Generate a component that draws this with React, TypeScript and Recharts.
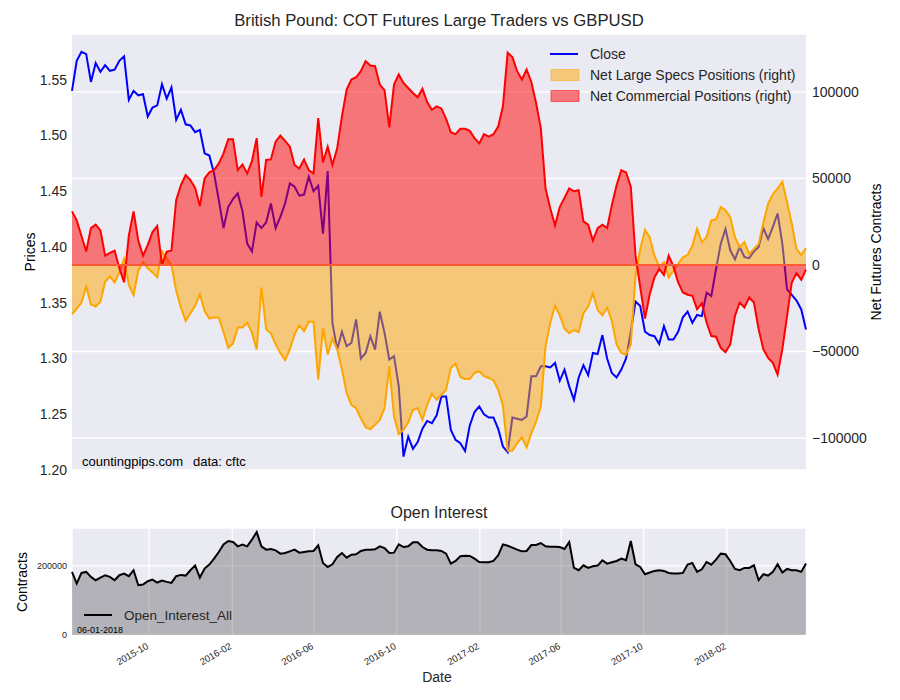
import React from 'react';
import { ComposedChart, Line, Area, XAxis, YAxis, CartesianGrid, ReferenceLine } from 'recharts';

// weekly COT report dates (Tuesdays) from 2015-06-09 to 2018-05-29
const FIRST_WEEK = Date.UTC(2015, 5, 9);
const WEEK_MS = 7 * 24 * 3600 * 1000;

export const closePrices = [
  1.540, 1.567, 1.575, 1.573, 1.548, 1.565, 1.557, 1.563, 1.558, 1.559,
  1.567, 1.571, 1.532, 1.540, 1.536, 1.537, 1.517, 1.525, 1.527, 1.546,
  1.533, 1.543, 1.514, 1.523, 1.510, 1.509, 1.503, 1.505, 1.484, 1.482,
  1.466, 1.442, 1.417, 1.436, 1.443, 1.448, 1.432, 1.403, 1.396, 1.422,
  1.417, 1.422, 1.439, 1.417, 1.427, 1.439, 1.457, 1.454, 1.446, 1.447,
  1.463, 1.450, 1.455, 1.412, 1.468, 1.332, 1.308, 1.324, 1.311, 1.314,
  1.335, 1.300, 1.305, 1.320, 1.308, 1.342, 1.323, 1.299, 1.302, 1.275,
  1.212, 1.230, 1.219, 1.225, 1.237, 1.244, 1.242, 1.249, 1.266, 1.266,
  1.236, 1.227, 1.224, 1.217, 1.240, 1.252, 1.257, 1.250, 1.247, 1.247,
  1.237, 1.221, 1.216, 1.247, 1.246, 1.245, 1.248, 1.284, 1.284, 1.293,
  1.293, 1.292, 1.296, 1.280, 1.290, 1.275, 1.263, 1.283, 1.294, 1.285,
  1.305, 1.304, 1.321, 1.300, 1.287, 1.283, 1.290, 1.300, 1.324, 1.351,
  1.347, 1.324, 1.321, 1.320, 1.313, 1.329, 1.317, 1.317, 1.324, 1.337,
  1.342, 1.332, 1.339, 1.338, 1.359, 1.356, 1.380, 1.403, 1.416, 1.397,
  1.389, 1.400, 1.391, 1.390, 1.396, 1.400, 1.417, 1.407, 1.418, 1.430,
  1.403, 1.362, 1.357, 1.352, 1.344, 1.326,
];

export const netSpecs = [
  -28500, -25200, -21700, -12400, -22900, -24000, -21300, -9700, -6600, -10100,
  -4300, 3500, -11600, -17400, -3300, 1550, -1900, -4300, -7200, 7750,
  3900, 0, -14900, -24600, -32400, -27900, -23600, -16900, -26600, -31000,
  -30400, -30400, -38800, -47900, -45300, -36200, -36200, -33300, -39100, -48800,
  -13000, -37200, -39500, -45900, -50800, -55000, -48800, -40100, -34900, -38200,
  -32800, -32800, -66300, -36600, -51700, -42600, -48800, -60500, -74000, -80800,
  -82800, -88600, -93800, -95000, -92400, -89500, -82800, -58600, -87600, -97700,
  -95300, -91100, -83700, -82800, -89500, -80800, -74400, -77900, -75000, -72100,
  -59500, -57000, -64700, -65900, -65900, -62400, -61400, -64300, -65300, -66700,
  -72100, -81400, -107400, -107400, -103100, -99600, -105400, -97300, -90500, -81800,
  -46900, -33300, -23600, -29100, -36800, -39500, -37600, -38800, -27900, -24000,
  -16300, -26000, -29100, -24600, -32400, -45900, -50800, -51700, -45900, -6200,
  9300, 20300, 16100, 5400, -800, 1550, -7200, -3300, 600, 4500,
  5800, 11200, 20900, 13200, 16100, 25800, 26400, 33500, 31600, 27700,
  16100, 10300, 13200, 6400, 9300, 12200, 24400, 35500, 40900, 44200,
  48100, 36400, 23800, 9300, 5800, 9700,
];

export const netCommercial = [
  31000, 25800, 16700, 7750, 21300, 23300, 20000, 5400, 7000, 8300,
  -1900, -10000, 17000, 31000, 14100, 5400, 11600, 19000, 22500, 0,
  7750, 8300, 37400, 46100, 52000, 49000, 44600, 34100, 50000, 53500,
  54800, 58700, 64500, 72700, 72700, 54800, 58100, 52900, 60000, 73300,
  39300, 60700, 61000, 71300, 74800, 71700, 68400, 57800, 55800, 61000,
  54800, 52900, 84900, 59300, 68400, 57800, 67400, 85900, 101400, 107200,
  108500, 112000, 117800, 115300, 114900, 104300, 101000, 79500, 104300, 110100,
  105200, 102300, 99400, 96900, 101900, 94200, 89700, 91700, 90500, 84500,
  76700, 75600, 78700, 78700, 77500, 73300, 70300, 75600, 74200, 75600,
  80000, 91700, 122700, 120200, 112000, 107200, 113000, 105800, 93600, 79100,
  44200, 32600, 22900, 33500, 38800, 44200, 42600, 43200, 25200, 23300,
  14100, 21300, 23300, 21300, 34500, 46100, 54800, 53500, 45200, 5400,
  -13000, -31000, -16900, -7200, -2300, -5800, 5400, -800, -10100, -15900,
  -17200, -17800, -25600, -22100, -33300, -41100, -41500, -47900, -50400, -45900,
  -29500, -21700, -24600, -18800, -21700, -37200, -48800, -53700, -56600, -63400,
  -48800, -29500, -10100, -4700, -8500, -2700,
];

export const openInterest = [
  182800, 149100, 179900, 182800, 168400, 158700, 166400, 173200, 168400, 158700,
  173200, 178000, 170300, 187600, 144300, 146200, 155800, 160700, 152000, 157800,
  153900, 151000, 170300, 174100, 172200, 187600, 201100, 166400, 192400, 203900,
  221300, 240500, 262600, 272200, 269400, 256900, 261700, 256900, 276100, 298200,
  256900, 247200, 249200, 245300, 235700, 237600, 242400, 247200, 238600, 240500,
  242400, 243400, 259700, 208800, 197200, 204900, 226100, 237600, 224100, 232800,
  233800, 243400, 247200, 247200, 248200, 256900, 252000, 237600, 238600, 262600,
  254900, 256900, 268400, 268400, 254900, 247200, 245300, 245300, 243400, 235700,
  206800, 214500, 228000, 229900, 229000, 221300, 211600, 210700, 210700, 214500,
  230900, 262600, 258800, 253000, 247200, 242400, 243400, 260700, 260700, 266500,
  256900, 255900, 255900, 254900, 249200, 269400, 194300, 187600, 202000, 194300,
  199100, 201100, 216500, 206800, 210700, 214500, 221300, 216500, 272200, 204900,
  197200, 176000, 180900, 185700, 187600, 185700, 179900, 178000, 178000, 179900,
  203900, 208800, 182800, 190500, 211600, 203900, 218400, 235700, 233800, 214500,
  191400, 187600, 194300, 194300, 202000, 158700, 176000, 172200, 182800, 204900,
  180900, 191400, 187600, 187600, 182800, 206800,
];

const monthTicks = ['2015-10-01', '2016-02-01', '2016-06-01', '2016-10-01', '2017-02-01', '2017-06-01', '2017-10-01', '2018-02-01'].map(d => Date.parse(d));
const priceTicks = [1.2, 1.25, 1.3, 1.35, 1.4, 1.45, 1.5, 1.55];
const netTicks = [-100000, -50000, 0, 50000, 100000];
const oiTicks = [0, 200000];

const rows = closePrices.map((close, i) => ({
  t: FIRST_WEEK + i * WEEK_MS,
  close,
  specs: netSpecs[i],
  comm: netCommercial[i],
  oi: openInterest[i],
}));
const xDomain = [rows[0].t, rows[rows.length - 1].t];

const TEXT = '#262626';
const BG = '#eaeaf2';

const fmtNet = (v: number) => (v < 0 ? `\u2212${Math.abs(v)}` : `${v}`);
const fmtMonth = (t: number) => {
  const d = new Date(t);
  return `${d.getUTCFullYear()}-${String(d.getUTCMonth() + 1).padStart(2, '0')}`;
};

function DateTick(props: any) {
  const { x, y, payload } = props;
  const ty = y + 5;
  return (
    <g transform={`translate(${x},${ty})`}>
      <text x={0} y={0} textAnchor="end" fontSize={9.5} fill={TEXT} transform="rotate(-30)">
        {fmtMonth(payload.value)}
      </text>
    </g>
  );
}

export default function App() {
  return (
    <div style={{ position: 'absolute', left: 0, top: 0, width: 900, height: 700, background: '#fff', fontFamily: '"Liberation Sans", Arial, sans-serif' }}>
      {/* price + net positions panel */}
      <div style={{ position: 'absolute', left: 0, top: 0 }}>
        <ComposedChart width={900} height={480} data={rows} margin={{ top: 34, right: 0, bottom: 10, left: 8 }}>
          <CartesianGrid yAxisId="net" vertical={false} fill={BG} fillOpacity={1} stroke="#fff" strokeWidth={1.3} />
          <XAxis dataKey="t" type="number" domain={xDomain} hide />
          <YAxis
            yAxisId="price"
            domain={[1.2, 1.591]}
            ticks={priceTicks}
            allowDataOverflow
            width={64}
            axisLine={false}
            tickLine={false}
            tickSize={3}
            tick={{ fontSize: 14, fill: TEXT }}
            tickFormatter={(v: number) => v.toFixed(2)}
          />
          <YAxis
            yAxisId="net"
            orientation="right"
            domain={[-118500, 133500]}
            ticks={netTicks}
            allowDataOverflow
            width={94}
            axisLine={false}
            tickLine={false}
            tickSize={4}
            tick={{ fontSize: 14, fill: TEXT }}
            tickFormatter={fmtNet}
          />
          <Line yAxisId="price" type="linear" dataKey="close" stroke="#0000ff" strokeWidth={2} dot={false} activeDot={false} isAnimationActive={false} zIndex={50} />
          <Area yAxisId="net" type="linear" dataKey="specs" baseValue={0} stroke="#ffa500" strokeWidth={2} fill="#ffa500" fillOpacity={0.5} dot={false} activeDot={false} isAnimationActive={false} />
          <Area yAxisId="net" type="linear" dataKey="comm" baseValue={0} stroke="#ff0000" strokeWidth={2} fill="#ff0000" fillOpacity={0.5} dot={false} activeDot={false} isAnimationActive={false} />
          <ReferenceLine yAxisId="net" y={0} stroke="#ff5a36" strokeWidth={2} />
        </ComposedChart>
      </div>

      {/* open interest panel */}
      <div style={{ position: 'absolute', left: 0, top: 500 }}>
        <ComposedChart width={900} height={200} data={rows} margin={{ top: 28, right: 94, bottom: 15, left: 8 }}>
          <CartesianGrid fill={BG} fillOpacity={1} stroke="#fff" strokeWidth={1.3} />
          <XAxis
            dataKey="t"
            type="number"
            domain={xDomain}
            ticks={monthTicks}
            height={50}
            axisLine={false}
            tickLine={false}
            tickSize={6}
            tickMargin={2}
            tick={<DateTick />}
            interval={0}
          />
          <YAxis
            domain={[0, 310000]}
            ticks={oiTicks}
            allowDataOverflow
            width={64}
            axisLine={false}
            tickLine={false}
            tickSize={3}
            tick={{ fontSize: 9, fill: TEXT }}
          />
          <Area type="linear" dataKey="oi" baseValue={0} stroke="#000" strokeWidth={2} fill="#000" fillOpacity={0.24} dot={false} activeDot={false} isAnimationActive={false} />
        </ComposedChart>
      </div>

      {/* titles, axis labels, legends */}
      <svg width={900} height={700} style={{ position: 'absolute', left: 0, top: 0, pointerEvents: 'none' }}>
        <text x={439} y={20} textAnchor="middle" dominantBaseline="central" fontSize={16.7} fill={TEXT}>
          British Pound: COT Futures Large Traders vs GBPUSD
        </text>
        <text x={30} y={252} textAnchor="middle" dominantBaseline="central" fontSize={14} fill="#000" transform="rotate(-90 30 252)">Prices</text>
        <text x={876} y={252} textAnchor="middle" dominantBaseline="central" fontSize={14} fill="#000" transform="rotate(-90 876 252)">Net Futures Contracts</text>
        <text x={82} y={461} dominantBaseline="central" fontSize={13} fill="#000">countingpips.com</text>
        <text x={193} y={461} dominantBaseline="central" fontSize={13} fill="#000">data: cftc</text>

        <line x1={550} x2={578} y1={54} y2={54} stroke="#0000ff" strokeWidth={2} />
        <text x={590} y={54} dominantBaseline="central" fontSize={14} fill={TEXT}>Close</text>
        <rect x={551} y={69.5} width={28} height={11} fill="#ffa500" fillOpacity={0.5} stroke="#ffa500" strokeOpacity={0.5} />
        <text x={590} y={75} dominantBaseline="central" fontSize={14} fill={TEXT}>Net Large Specs Positions (right)</text>
        <rect x={551} y={90.5} width={28} height={11} fill="#ff0000" fillOpacity={0.5} stroke="#ff0000" strokeOpacity={0.5} />
        <text x={590} y={96} dominantBaseline="central" fontSize={14} fill={TEXT}>Net Commercial Positions (right)</text>

        <text x={439} y={512} textAnchor="middle" dominantBaseline="central" fontSize={16} fill={TEXT}>Open Interest</text>
        <text x={22} y={582} textAnchor="middle" dominantBaseline="central" fontSize={14} fill="#000" transform="rotate(-90 22 582)">Contracts</text>
        <text x={437} y={677} textAnchor="middle" dominantBaseline="central" fontSize={14} fill={TEXT}>Date</text>
        <line x1={84} x2={112} y1={615} y2={615} stroke="#000" strokeWidth={2} />
        <text x={124} y={615} dominantBaseline="central" fontSize={13.5} fill={TEXT}>Open_Interest_All</text>
        <text x={77} y={630} dominantBaseline="central" fontSize={9} fill="#000">06-01-2018</text>
      </svg>
    </div>
  );
}
